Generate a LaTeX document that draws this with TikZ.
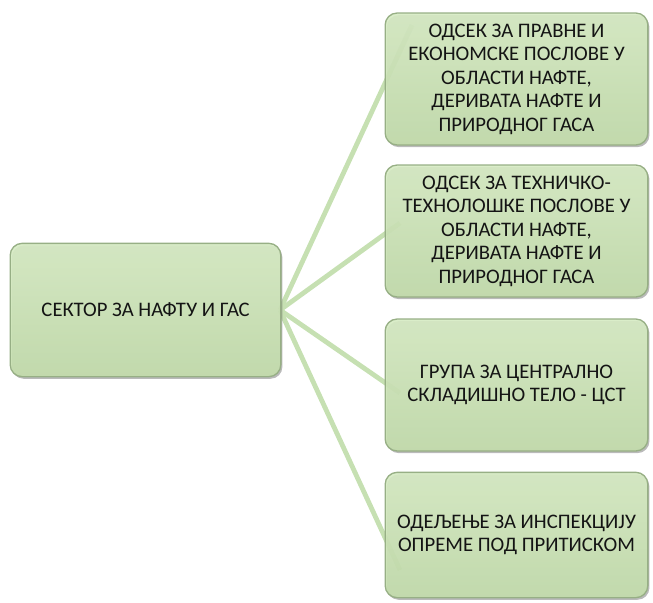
\documentclass[tikz,border=0pt]{standalone}
\usepackage{fontspec}
\setmainfont{Carlito}
\usepackage{xcolor}
\definecolor{orgFill}{HTML}{CDE5B8}
\definecolor{orgTop}{HTML}{D6EBC3}
\definecolor{orgBottom}{HTML}{C3DDAB}
\definecolor{orgBorder}{HTML}{97AF85}
\definecolor{orgLine}{HTML}{C6E0B2}
\definecolor{orgText}{HTML}{141414}
\usepackage{tikz}
\usetikzlibrary{positioning,shadows,backgrounds}
\tikzset{
    unit/.style={
        rectangle,
        rounded corners=9pt,
        top color=orgTop,
        bottom color=orgBottom,
        draw=orgBorder,
        line width=1pt,
        fill opacity=0.9,
        text opacity=1,
        align=center,
        text=orgText,
        font=\fontsize{15.5}{17.6}\selectfont,
        drop shadow={shadow xshift=1.2pt, shadow yshift=-1.6pt, opacity=0.45, fill=black!60}
    },
    sector/.style={
        unit,
        minimum width=203pt,
        minimum height=100pt
    },
    dept/.style={
        unit,
        minimum width=197pt,
        minimum height=99pt
    },
    link/.style={
        line width=3.6pt,
        color=orgLine
    }
}

\begin{document}
\begin{tikzpicture}[x=0.75pt,y=-0.75pt]
    \useasboundingbox (0,0) rectangle (653,603);

    % Sector
    \node[sector] (sector) at (145.5,310) {СЕКТОР ЗА НАФТУ И ГАС};
    \coordinate (hub) at (280,310);

    % Departments
    \node[dept] (legal) at (516.5,79)
        {ОДСЕК ЗА ПРАВНЕ И\\ЕКОНОМСКЕ ПОСЛОВЕ У\\ОБЛАСТИ НАФТЕ,\\ДЕРИВАТА НАФТЕ И\\ПРИРОДНОГ ГАСА};
    \node[dept] (tech) at (516.5,231)
        {ОДСЕК ЗА ТЕХНИЧКО-\\ТЕХНОЛОШКЕ ПОСЛОВЕ У\\ОБЛАСТИ НАФТЕ,\\ДЕРИВАТА НАФТЕ И\\ПРИРОДНОГ ГАСА};
    \node[dept] (cst) at (516.5,385)
        {ГРУПА ЗА ЦЕНТРАЛНО\\СКЛАДИШНО ТЕЛО - ЦСТ};
    \node[dept, minimum height=94pt] (pressure) at (516.5,535)
        {ОДЕЉЕЊЕ ЗА ИНСПЕКЦИЈУ\\ОПРЕМЕ ПОД ПРИТИСКОМ};

    % Connector ends
    \coordinate (legalIn) at (412,25);
    \coordinate (techIn) at (400,223);
    \coordinate (cstIn) at (400,393);
    \coordinate (pressureIn) at (400,570);

    % Connectors
    \begin{scope}[on background layer]
        \draw[link] (hub) -- (legalIn);
        \draw[link] (hub) -- (techIn);
        \draw[link] (hub) -- (cstIn);
        \draw[link] (hub) -- (pressureIn);
    \end{scope}
\end{tikzpicture}
\end{document}
